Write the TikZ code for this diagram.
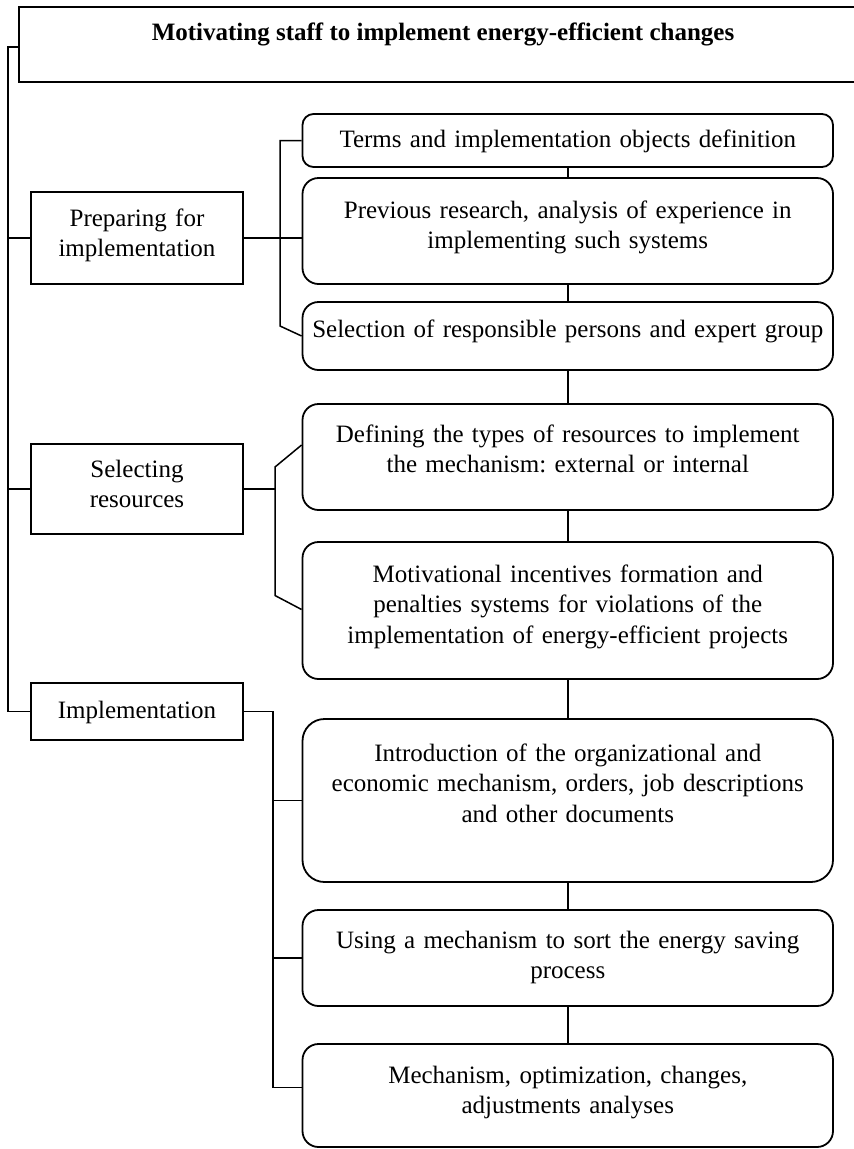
\documentclass[tikz,border=0pt]{standalone}
\usepackage{fontspec}
\setmainfont{Liberation Serif}
\usetikzlibrary{calc}
\frenchspacing
\begin{document}
\begin{tikzpicture}[x=1pt,y=-1pt,
  frame/.style={draw, line width=1.8pt, inner sep=0pt},
  lbox/.style={frame, minimum width=212pt},
  rbox/.style={frame, rounded corners=16pt, minimum width=530.5pt},
  txt/.style={align=center, inner sep=0pt, anchor=base, text width=520pt,
    font=\fontsize{25}{30.5}\selectfont},
  ltxt/.style={txt, text width=200pt},
  link/.style={line width=1.5pt}]
\useasboundingbox (0,0) rectangle (854,1149);

% heading
\node[frame, anchor=north west, minimum width=860pt, minimum height=75pt] (title) at (18,6) {};
\node[anchor=base, inner sep=0pt, font=\bfseries\fontsize{25}{30}\selectfont] (titletxt) at (443,40)
  {Motivating staff to implement energy-efficient changes};

% stages on the left
\node[lbox, minimum height=92pt] (prep) at (137,238) {};
\node[ltxt] (preptxt) at (137,226) {Preparing for\\implementation};
\node[lbox, minimum height=90pt] (selr) at (137,489) {};
\node[ltxt] (selrtxt) at (137,477) {Selecting\\resources};
\node[lbox, minimum height=57pt] (impl) at (137,711.5) {};
\node[ltxt] (impltxt) at (137,718) {Implementation};

% steps on the right
\node[rbox, minimum height=53pt, rounded corners=11pt] (terms) at (567.75,140.5) {};
\node[txt] (termstxt) at (567.75,147.7) {Terms and implementation objects definition};
\node[rbox, minimum height=106pt] (prev) at (567.75,231) {};
\node[txt] (prevtxt) at (567.75,218) {Previous research, analysis of experience in\\implementing such systems};
\node[rbox, minimum height=68pt] (sel) at (567.75,336) {};
\node[txt] (seltxt) at (567.75,337) {Selection of responsible persons and expert group};
\node[rbox, minimum height=106pt] (def) at (567.75,457) {};
\node[txt] (deftxt) at (567.75,442) {Defining the types of resources to implement\\the mechanism: external or internal};
\node[rbox, minimum height=137pt] (mot) at (567.75,610.5) {};
\node[txt] (mottxt) at (567.75,582) {Motivational incentives formation and\\penalties systems for violations of the\\implementation of energy-efficient projects};
\node[rbox, minimum height=163pt, rounded corners=22pt] (intro) at (567.75,800.5) {};
\node[txt] (introtxt) at (567.75,761) {Introduction of the organizational and\\economic mechanism, orders, job descriptions\\and other documents};
\node[rbox, minimum height=96pt] (using) at (567.75,958) {};
\node[txt] (usingtxt) at (567.75,948) {Using a mechanism to sort the energy saving\\process};
\node[rbox, minimum height=103pt] (mech) at (567.75,1095.5) {};
\node[txt] (mechtxt) at (567.75,1083) {Mechanism, optimization, changes,\\adjustments analyses};

% main trunk
\coordinate (trunk) at (8,47);
\draw[link] (title.west |- trunk) -- (trunk) |- (impl.west);
\draw[link] (prep.west) -- (prep.west -| trunk);
\draw[link] (selr.west) -- (selr.west -| trunk);

% preparing branch
\coordinate (pb) at (280,0);
\draw[link] (prep.east) -- (prep.east -| prev.west);
\draw[link] (terms.west) -- (terms.west -| pb) -- ($(pb |- sel.west)+(0,-10)$) -- (sel.west);

% resources branch
\coordinate (sb) at (275,0);
\draw[link] (selr.east) -- (selr.east -| sb);
\draw[link] ($(def.west)+(0,-12)$) -- ($(sb |- def.west)+(0,10)$) -- ($(sb |- mot.west)+(0,-15)$) -- ($(mot.west)+(0,-1)$);

% implementation branch
\coordinate (ib) at (273,0);
\draw[link] (impl.east) -- (impl.east -| ib) -- ($(ib |- mech.west)+(0,-8)$) -- ($(mech.west)+(0,-8)$);
\draw[link] (intro.west -| ib) -- (intro.west);
\draw[link] (using.west -| ib) -- (using.west);

% sequence of steps
\foreach \a/\b in {terms/prev, prev/sel, sel/def, def/mot, mot/intro, intro/using, using/mech}
  \draw[link] (\a.south) -- (\b.north);
\end{tikzpicture}
\end{document}
